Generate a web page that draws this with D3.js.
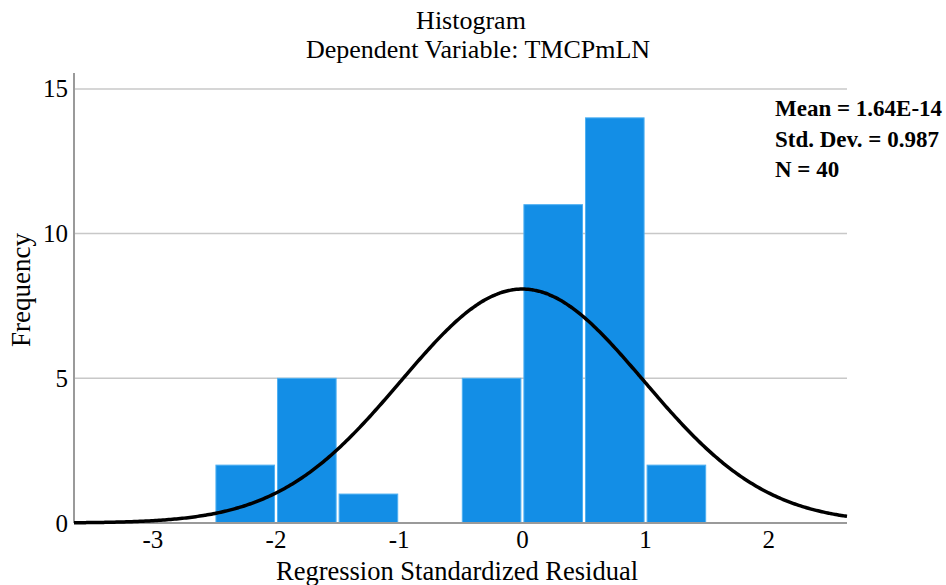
<!DOCTYPE html>
<html><head><meta charset="utf-8">
<script src="https://cdn.jsdelivr.net/npm/d3@7"></script>
<style>body{margin:0;background:#fff;} svg{display:block;} text{font-family:"Liberation Serif","Times New Roman",serif;}</style>
</head><body><svg id="c" width="946" height="585"></svg>
<script>
const binStarts = [-2.5, -2.0, -1.5, -1.0, -0.5, 0.0, 0.5, 1.0];
const binWidth = 0.5;
const counts = [2, 5, 1, 0, 5, 11, 14, 2];
const xTicks = [-3, -2, -1, 0, 1, 2];
const yTicks = [0, 5, 10, 15];
const statMean = 1.64e-14, statSD = 0.987, statN = 40;
const statLabels = ["Mean = 1.64E-14", "Std. Dev. = 0.987", "N = 40"];

const svg = d3.select("#c");
const L = 74, R = 847, T = 73, B = 523;
const x = d3.scaleLinear().domain([-3.64, 2.635]).range([L, R]);
const y = d3.scaleLinear().domain([0, 15.55]).range([B, T]);

// gridlines
svg.append("g").selectAll("line").data(yTicks.filter(d => d > 0)).join("line")
  .attr("x1", L).attr("x2", R).attr("y1", d => y(d)).attr("y2", d => y(d))
  .attr("stroke", "#c8c8c8").attr("stroke-width", 1.5);

// bars
svg.append("g").selectAll("rect").data(binStarts.map((s, i) => ({s, c: counts[i]})).filter(d => d.c > 0)).join("rect")
  .attr("x", d => x(d.s) + 1.5)
  .attr("width", d => x(d.s + binWidth) - x(d.s) - 3)
  .attr("y", d => y(d.c))
  .attr("height", d => y(0) - y(d.c))
  .attr("fill", "#138ee6").attr("stroke", "#4fb0f2").attr("stroke-width", 1);

// axes
const ax = svg.append("g").attr("stroke", "#9a9a9a").attr("stroke-width", 2);
ax.append("line").attr("x1", L).attr("x2", L).attr("y1", T).attr("y2", B);
ax.append("line").attr("x1", L).attr("x2", R).attr("y1", B).attr("y2", B);

// normal curve
const dens = v => statN * binWidth / (statSD * Math.sqrt(2 * Math.PI)) * Math.exp(-0.5 * Math.pow((v - statMean) / statSD, 2));
const xs = d3.range(0, 401).map(i => x.domain()[0] + (x.domain()[1] - x.domain()[0]) * i / 400);
svg.append("path").datum(xs)
  .attr("d", d3.line().x(v => x(v)).y(v => y(dens(v))).curve(d3.curveBasis))
  .attr("fill", "none").attr("stroke", "#000").attr("stroke-width", 3.5);

// tick labels
svg.append("g").selectAll("text").data(xTicks).join("text")
  .attr("x", d => x(d)).attr("y", 548).attr("text-anchor", "middle")
  .attr("font-size", 25).text(d => d);
svg.append("g").selectAll("text").data(yTicks).join("text")
  .attr("x", 68).attr("y", d => y(d) + 8.5).attr("text-anchor", "end")
  .attr("font-size", 25).text(d => d);

// titles
svg.append("text").attr("x", 471).attr("y", 29).attr("text-anchor", "middle").attr("font-size", 26).text("Histogram");
svg.append("text").attr("x", 478).attr("y", 58).attr("text-anchor", "middle").attr("font-size", 26).text("Dependent Variable: TMCPmLN");
svg.append("text").attr("x", 457).attr("y", 580).attr("text-anchor", "middle").attr("font-size", 26.5).text("Regression Standardized Residual");
svg.append("text").attr("transform", "translate(30,290) rotate(-90)").attr("text-anchor", "middle").attr("font-size", 27).text("Frequency");

// stats
svg.append("g").selectAll("text").data(statLabels).join("text")
  .attr("x", 775).attr("y", (d, i) => 116 + i * 30.5)
  .attr("font-size", 23).attr("font-weight", "bold").text(d => d);
</script></body></html>
